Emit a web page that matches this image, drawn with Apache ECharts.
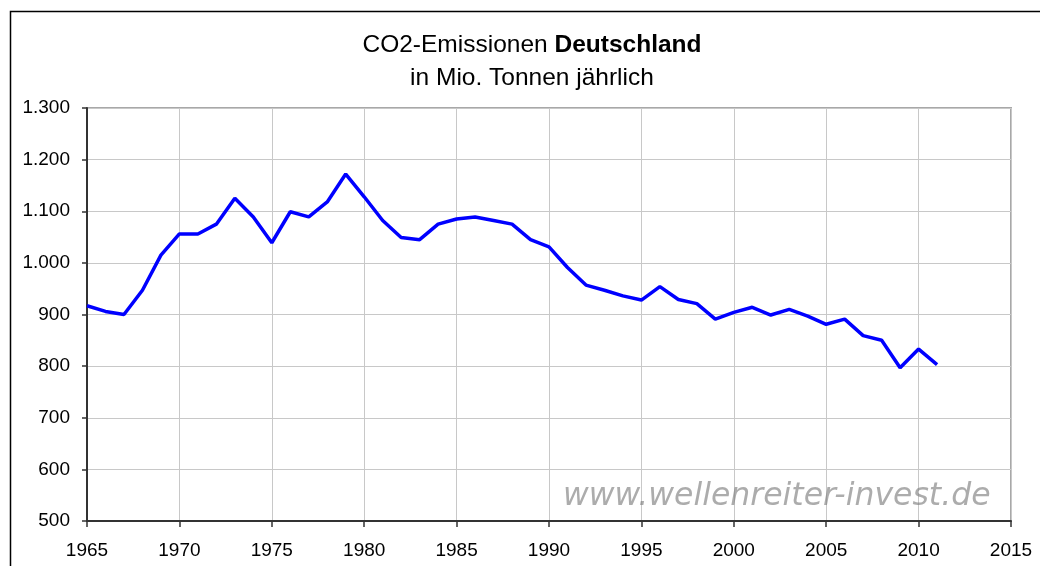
<!DOCTYPE html>
<html>
<head>
<meta charset="utf-8">
<script src="https://cdn.jsdelivr.net/npm/echarts@6/dist/echarts.min.js"></script>
<style>
  html, body { margin: 0; padding: 0; background: #fff; }
  #chart { width: 1040px; height: 566px; }
</style>
</head>
<body>
<div id="chart"></div>
<script>
// Jahre und CO2-Emissionen (Mio. Tonnen)
const years = [
  1965, 1966, 1967, 1968, 1969, 1970, 1971, 1972, 1973, 1974,
  1975, 1976, 1977, 1978, 1979, 1980, 1981, 1982, 1983, 1984,
  1985, 1986, 1987, 1988, 1989, 1990, 1991, 1992, 1993, 1994,
  1995, 1996, 1997, 1998, 1999, 2000, 2001, 2002, 2003, 2004,
  2005, 2006, 2007, 2008, 2009, 2010, 2011
]
const emissions = [
  917, 906, 900, 947, 1015, 1056, 1056, 1075, 1125, 1089,
  1039, 1099, 1089, 1118, 1172, 1128, 1082, 1049, 1045, 1075,
  1085, 1089, 1082, 1075, 1045, 1031, 991, 957, 947, 936,
  928, 954, 929, 921, 891, 904, 914, 899, 910, 897,
  881, 891, 859, 850, 797, 833, 803
]
const titleMain = 'CO2-Emissionen '
const titleBold = 'Deutschland'
const subTitle = 'in Mio. Tonnen jährlich'
const watermark = 'www.wellenreiter-invest.de'

const font = 'Arial, "Liberation Sans", sans-serif'

// 1300 -> "1.300"
function deNumber(v) {
  return String(v).replace(/\B(?=(\d{3})+(?!\d))/g, '.')
}

const chart = echarts.init(document.getElementById('chart'), null, { renderer: 'canvas' })

chart.setOption({
  animation: false,
  backgroundColor: '#fff',
  title: {
    text: '{n|' + titleMain + '}{b|' + titleBold + '}',
    subtext: subTitle,
    left: 527,
    top: 28,
    textAlign: 'center',
    itemGap: 8,
    textStyle: {
      fontWeight: 'normal',
      rich: {
        n: { fontFamily: font, fontSize: 24.5, fontWeight: 'normal', color: '#000' },
        b: { fontFamily: font, fontSize: 24.5, fontWeight: 'bold', color: '#000' }
      }
    },
    subtextStyle: { fontFamily: font, fontSize: 24.5, color: '#000' }
  },
  grid: {
    left: 87,
    right: 29,
    top: 108,
    bottom: 45,
    show: true,
    borderColor: '#a8a8a8',
    borderWidth: 2
  },
  xAxis: {
    type: 'value',
    min: 1965,
    max: 2015,
    interval: 5,
    axisLine: { show: true, onZero: false, lineStyle: { color: '#333', width: 2 } },
    axisTick: { show: true, length: 6, lineStyle: { color: '#333', width: 1.5 } },
    axisLabel: { fontFamily: font, fontSize: 19, color: '#000', margin: 20, formatter: v => String(v) },
    splitLine: { show: true, lineStyle: { color: '#c8c8c8', width: 1 } }
  },
  yAxis: {
    type: 'value',
    min: 500,
    max: 1300,
    interval: 100,
    axisLine: { show: true, lineStyle: { color: '#333', width: 2 } },
    axisTick: { show: true, length: 5, lineStyle: { color: '#333', width: 1.5 } },
    axisLabel: { fontFamily: font, fontSize: 19, color: '#000', margin: 17, formatter: deNumber },
    splitLine: { show: true, lineStyle: { color: '#c8c8c8', width: 1 } }
  },
  graphic: [
    {
      type: 'rect',
      shape: { x: 10.5, y: 11.5, width: 1100, height: 700 },
      style: { fill: 'none', stroke: '#000', lineWidth: 1.5 },
      silent: true
    },
    {
      type: 'text',
      left: 563,
      top: 481,
      z: 1,
      style: {
        text: watermark,
        font: 'oblique 31.5px "DejaVu Sans", sans-serif',
        fill: 'rgba(128,128,128,0.65)'
      },
      silent: true
    }
  ],
  series: [
    {
      type: 'line',
      data: years.map((y, i) => [y, emissions[i]]),
      showSymbol: false,
      z: 5,
      lineStyle: { color: '#0000ff', width: 3.5 }
    }
  ]
})
</script>
</body>
</html>
